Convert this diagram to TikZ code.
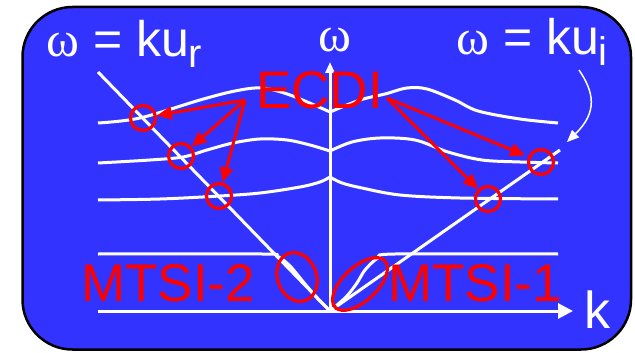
\documentclass[tikz,border=0pt]{standalone}
\usepackage{fontspec}
\setmainfont{Liberation Sans}
\newfontfamily\greekf{Liberation Serif}
\usetikzlibrary{arrows.meta,shapes.geometric}
\definecolor{bgblue}{RGB}{51,51,255}
\begin{document}
\begin{tikzpicture}[x=1pt,y=-1pt,
  wline/.style={white, line width=3pt, line join=round},
  redc/.style={draw=red, line width=3.2pt, circle, minimum size=25pt, inner sep=0pt},
  redell/.style={draw=red, line width=3.2pt, ellipse, inner sep=0pt},
  redarrow/.style={red, line width=3pt, -{Triangle[length=15pt,width=13pt]}},
  lbl/.style={white, inner sep=0pt, font=\fontsize{50}{50}\selectfont},
  redlbl/.style={red, inner sep=0pt, font=\fontsize{53}{53}\selectfont},
]
\useasboundingbox (0,0) rectangle (635,353);
% background box
\draw[line width=2.5pt, fill=bgblue, rounded corners=50pt] (22.5,7) rectangle (631,349.5);

% coordinates
\coordinate (O) at (330,311);
\coordinate (ytip) at (330,62);
\coordinate (xstart) at (98,311);
\coordinate (xtip) at (573,311);
\coordinate (lr) at (98,72);
\coordinate (li) at (560,150);

% light lines
\draw[wline] (lr) -- (O);
\draw[wline] (O) -- (li);

% dispersion curves
\draw[wline] plot[smooth, tension=0.55] coordinates {(98,123) (140,118) (200,100) (235,91) (262,88) (290,95) (330,112)};
\draw[wline] plot[smooth, tension=0.55] coordinates {(330,112) (360,100) (385,94) (407,88) (427,89) (455,100) (478,111) (520,119) (558,123)};
\draw[wline] plot[smooth, tension=0.55] coordinates {(98,163) (150,160) (183,157) (207,150) (233,143) (260,139) (287,140) (310,145) (330,151)};
\draw[wline] plot[smooth, tension=0.55] coordinates {(330,151) (352,142) (380,138) (415,140) (448,152) (482,160) (520,162) (558,163)};
\draw[wline] plot[smooth, tension=0.55] coordinates {(98,200) (160,199) (220,196) (260,193) (300,187) (320,182) (330,177)};
\draw[wline] plot[smooth, tension=0.55] coordinates {(330,177) (342,183) (362,188) (400,195) (460,198) (558,199)};
\draw[wline] plot[smooth, tension=0.5] coordinates {(98,254) (262,254) (277,256) (290,266) (305,284) (318,299) (330,311)};
\draw[wline] plot[smooth, tension=0.5] coordinates {(330,311) (346,297) (357,283) (365,270) (378,258) (395,254) (558,254)};

% axes
\draw[wline, -{Triangle[length=11pt,width=9pt]}] (O) -- (ytip);
\draw[wline, -{Triangle[length=15pt,width=15pt]}] (xstart) -- (xtip);

% red markers
\node[redc] (c1) at (143,118) {};
\node[redc] (c2) at (181,156) {};
\node[redc] (c3) at (219,196) {};
\node[redc] (c4) at (488,199) {};
\node[redc] (c5) at (541,162) {};
\node[redell, minimum width=39pt, minimum height=50pt, rotate=20] (m2) at (297,277) {};
\node[redell, minimum width=68pt, minimum height=34pt, rotate=43] (m1) at (360,284) {};

% red arrows
\coordinate (srcL) at (245,100);
\coordinate (srcR) at (387,98);
\draw[redarrow] (srcL) -- (c1);
\draw[redarrow] (srcL) -- (c2);
\draw[redarrow] (srcL) -- (c3);
\draw[redarrow, shorten >=3pt] (srcR) -- (c5);
\draw[redarrow] (srcR) -- (c4);

% labels
\node[lbl, anchor=base west] (lkr) at (46,57) {{\greekf ω} = ku\raisebox{-11pt}{\fontsize{40}{40}\selectfont r}};
\node[lbl, anchor=base] (lw) at (335,52) {\greekf ω};
\node[lbl, anchor=base west] (lki) at (456,55) {{\greekf ω} = ku\raisebox{-11pt}{\fontsize{40}{40}\selectfont i}};
\node[lbl, anchor=base, font=\fontsize{52}{52}\selectfont] (lk) at (597,328) {k};
\node[redlbl, anchor=base west] (lecdi) at (256,108) {ECDI};
\node[redlbl, anchor=base west] (lm2) at (81,301) {MTSI-2};
\node[redlbl, anchor=base west] (lm1) at (388,301) {MTSI-1};

% curved pointer to omega = ku_i line
\coordinate (kuiFrom) at (579,70);
\coordinate (kuiTo) at (567,142);
\draw[white, line width=1.5pt, -{Triangle[length=12pt,width=10pt]}] (kuiFrom) .. controls (594,92) and (598,112) .. (kuiTo);
\end{tikzpicture}
\end{document}
